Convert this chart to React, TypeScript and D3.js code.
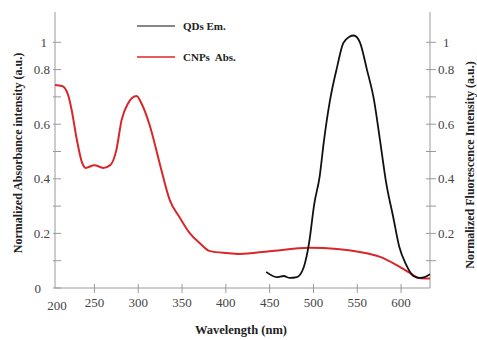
import React, { useEffect, useRef } from 'react';
import * as d3 from 'd3';

// CNPs absorption (red) and QDs emission (black), normalized
const absWl = [205, 213, 220, 224, 230, 236, 240, 250, 260, 268, 275, 281, 288, 298, 304, 313, 325, 336, 347, 359, 370, 382, 401, 416, 450, 496, 527, 553, 576, 595, 610, 620, 633];
const absVal = [0.744, 0.74, 0.707, 0.652, 0.542, 0.458, 0.44, 0.45, 0.44, 0.45, 0.505, 0.615, 0.674, 0.703, 0.674, 0.597, 0.45, 0.322, 0.26, 0.2, 0.165, 0.135, 0.128, 0.125, 0.135, 0.147, 0.143, 0.132, 0.114, 0.084, 0.055, 0.037, 0.035];
const emWl = [446, 458, 466, 473, 481, 489, 495, 501, 507, 512, 519, 527, 534, 541, 546, 553, 561, 569, 576, 583, 591, 598, 606, 614, 621, 627, 633];
const emVal = [0.059, 0.04, 0.044, 0.037, 0.04, 0.077, 0.165, 0.31, 0.407, 0.54, 0.69, 0.81, 0.897, 0.92, 0.925, 0.9, 0.8, 0.69, 0.54, 0.385, 0.26, 0.15, 0.084, 0.044, 0.037, 0.04, 0.05];

const xTicks = [250, 300, 350, 400, 450, 500, 550, 600];
const yTicks = [0, 0.1, 0.2, 0.3, 0.4, 0.5, 0.6, 0.7, 0.8, 0.9];
const leftLabels = ['0', '', '0.2', '', '0.4', '', '0.6', '', '0.8', '1'];
const rightLabels = ['', '', '0.2', '', '0.4', '', '0.6', '', '0.8', '1'];
const legendItems = [{ name: 'QDs Em.', color: '#111' }, { name: 'CNPs  Abs.', color: '#d8262b' }];

const App = () => {
  const svgRef = useRef<SVGSVGElement>(null);
  useEffect(() => {
    const svg = d3.select(svgRef.current);
    svg.selectAll('*').remove();
    const font = '"Liberation Serif", "Times New Roman", serif';
    const axisColor = '#9a9a9a';
    const labelColor = '#444';

    const x = d3.scaleLinear().domain([205, 633]).range([55, 430]);
    const y = d3.scaleLinear().domain([0, 1]).range([288, 15]);

    // axes lines
    svg.append('line').attr('x1', x(205)).attr('x2', x(205)).attr('y1', 12).attr('y2', y(0)).attr('stroke', axisColor);
    svg.append('line').attr('x1', x(633)).attr('x2', x(633)).attr('y1', 12).attr('y2', y(0)).attr('stroke', axisColor);
    svg.append('line').attr('x1', x(205)).attr('x2', x(633)).attr('y1', y(0)).attr('y2', y(0)).attr('stroke', axisColor);

    // x ticks
    const xt = svg.append('g');
    xt.selectAll('line').data(xTicks).join('line')
      .attr('x1', d => x(d)).attr('x2', d => x(d)).attr('y1', y(0) - 4).attr('y2', y(0) + 5).attr('stroke', axisColor);
    xt.selectAll('text').data(xTicks).join('text')
      .attr('x', d => x(d)).attr('y', y(0) + 19).attr('text-anchor', 'middle')
      .attr('font-family', font).attr('font-size', 13).attr('fill', labelColor).text(d => d);
    svg.append('text').attr('x', x(205) + 2).attr('y', y(0) + 22).attr('text-anchor', 'middle')
      .attr('font-family', font).attr('font-size', 13).attr('fill', labelColor).text('200');

    // left y ticks
    const yl = svg.append('g');
    yl.selectAll('line').data(yTicks).join('line')
      .attr('x1', x(205) - 2).attr('x2', x(205) + 6).attr('y1', d => y(d)).attr('y2', d => y(d)).attr('stroke', axisColor);
    yl.selectAll('text').data(yTicks).join('text')
      .attr('x', (d, i) => (i === 0 ? 41 : i === 9 ? 47 : 50)).attr('y', d => y(d) + 4.5).attr('text-anchor', 'end')
      .attr('font-family', font).attr('font-size', 13).attr('fill', labelColor).text((d, i) => leftLabels[i]);

    // right y ticks
    const yr = svg.append('g');
    yr.selectAll('line').data(yTicks.slice(1)).join('line')
      .attr('x1', x(633) - 4).attr('x2', x(633) + 6).attr('y1', d => y(d)).attr('y2', d => y(d)).attr('stroke', axisColor);
    yr.selectAll('text').data(yTicks).join('text')
      .attr('x', (d, i) => (i === 9 ? 443 : 438)).attr('y', d => y(d) + 4.5)
      .attr('font-family', font).attr('font-size', 13).attr('fill', labelColor).text((d, i) => rightLabels[i]);

    // curves
    const line = d3.line<[number, number]>().x(d => x(d[0])).y(d => y(d[1])).curve(d3.curveMonotoneX);
    svg.append('path').datum(absWl.map((w, i) => [w, absVal[i]] as [number, number]))
      .attr('fill', 'none').attr('stroke', '#d8262b').attr('stroke-width', 2).attr('d', line);
    svg.append('path').datum(emWl.map((w, i) => [w, emVal[i]] as [number, number]))
      .attr('fill', 'none').attr('stroke', '#111').attr('stroke-width', 1.8).attr('d', line);

    // legend
    const lg = svg.append('g');
    legendItems.forEach((it, i) => {
      const ly = 26 + i * 31;
      lg.append('line').attr('x1', 137).attr('x2', 175).attr('y1', ly).attr('y2', ly)
        .attr('stroke', it.color).attr('stroke-width', i === 0 ? 1.2 : 1.6);
      lg.append('text').attr('x', 183).attr('y', ly + 4).attr('font-family', font).attr('font-size', 11)
        .attr('font-weight', 'bold').attr('fill', '#222').attr('xml:space', 'preserve').text(it.name);
    });

    // titles
    svg.append('text').attr('x', 241).attr('y', 334).attr('text-anchor', 'middle')
      .attr('font-family', font).attr('font-size', 12.5).attr('font-weight', 'bold').attr('fill', '#222')
      .text('Wavelength (nm)');
    svg.append('text').attr('transform', 'translate(22,153) rotate(-90)').attr('text-anchor', 'middle')
      .attr('font-family', font).attr('font-size', 12).attr('font-weight', 'bold').attr('fill', '#222')
      .text('Normalized Absorbance intensity (a.u.)');
    svg.append('text').attr('transform', 'translate(474,165) rotate(-90)').attr('text-anchor', 'middle')
      .attr('font-family', font).attr('font-size', 12).attr('font-weight', 'bold').attr('fill', '#222')
      .text('Normalized Fluorescence Intensity (a.u.)');
  }, []);

  return (
    <svg ref={svgRef} width={477} height={340} style={{ position: 'absolute', left: 0, top: 0, background: '#fff' }} />
  );
};

export default App;
